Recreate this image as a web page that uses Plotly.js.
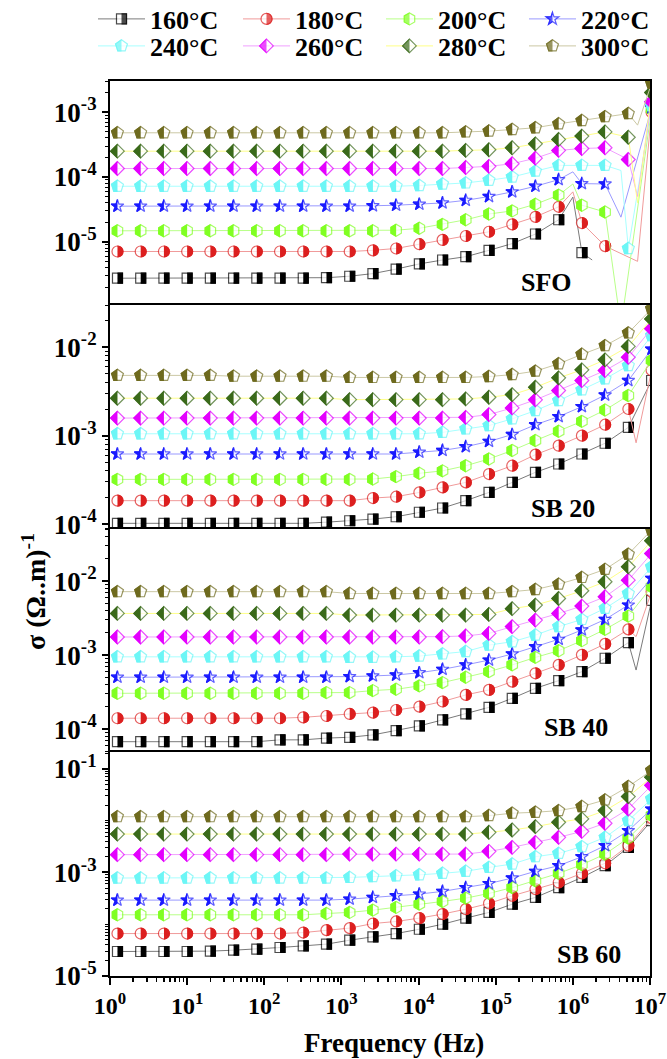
<!DOCTYPE html>
<html><head><meta charset="utf-8">
<script src="https://cdn.plot.ly/plotly-3.0.1.min.js"></script>
<style>html,body{margin:0;padding:0;background:#fff}#chart{width:667px;height:1059px}</style>
</head><body>
<svg width="0" height="0" style="position:absolute;left:0;top:0"><defs>
<clipPath id="halfR" clipPathUnits="objectBoundingBox"><rect x="0.5" y="-1" width="2" height="3"/></clipPath>
<clipPath id="halfL" clipPathUnits="objectBoundingBox"><rect x="-1.5" y="-1" width="2" height="3"/></clipPath>
</defs></svg>
<div id="chart"></div>
<script>
// ---------------- data ----------------
const freqHz = [1.25, 2.5, 5, 10, 20, 40, 80, 160, 320, 640, 1280, 2560, 5120, 10240, 20480, 40960, 81920, 163840, 327680, 655360, 1310720, 2621440, 5242880, 10485760];
const seriesNames = ['160°C', '180°C', '200°C', '220°C', '240°C', '260°C', '280°C', '300°C'];
const panelLabels = ['SFO', 'SB 20', 'SB 40', 'SB 60'];

// SFO
const sfo160 = [2.75e-6,2.75e-6,2.75e-6,2.75e-6,2.75e-6,2.75e-6,2.75e-6,2.75e-6,2.75e-6,2.8e-6,2.95e-6,3.24e-6,3.8e-6,4.57e-6,5.25e-6,5.9e-6,7.4e-6,9.4e-6,1.32e-5,2.19e-5,6.8e-6,null,null,null];
const sfo180 = [7.1e-6,7.1e-6,7.1e-6,7.1e-6,7.1e-6,7.1e-6,7.1e-6,7.1e-6,7.1e-6,7.1e-6,7.1e-6,7.4e-6,7.9e-6,9.2e-6,1.07e-5,1.23e-5,1.43e-5,1.86e-5,2.43e-5,3.47e-5,1.95e-5,8.6e-6,null,1.0e-3];
const sfo200 = [1.48e-5,1.48e-5,1.48e-5,1.48e-5,1.48e-5,1.48e-5,1.48e-5,1.48e-5,1.48e-5,1.48e-5,1.48e-5,1.48e-5,1.51e-5,1.62e-5,1.86e-5,2.19e-5,2.69e-5,3.0e-5,3.8e-5,5.25e-5,3.67e-5,2.88e-5,null,1.1e-3];
const sfo220 = [3.55e-5,3.55e-5,3.55e-5,3.55e-5,3.55e-5,3.55e-5,3.55e-5,3.55e-5,3.55e-5,3.55e-5,3.55e-5,3.6e-5,3.67e-5,3.8e-5,3.98e-5,4.37e-5,5.0e-5,5.9e-5,7.2e-5,9.1e-5,7.9e-5,7.8e-5,null,1.17e-3];
const sfo240 = [7.2e-5,7.2e-5,7.2e-5,7.2e-5,7.2e-5,7.2e-5,7.2e-5,7.2e-5,7.2e-5,7.2e-5,7.2e-5,7.2e-5,7.2e-5,7.4e-5,7.8e-5,8.1e-5,8.9e-5,1.0e-4,1.23e-4,1.51e-4,1.51e-4,1.51e-4,7.9e-6,1.26e-3];
const sfo260 = [1.35e-4,1.35e-4,1.35e-4,1.35e-4,1.35e-4,1.35e-4,1.35e-4,1.35e-4,1.35e-4,1.35e-4,1.35e-4,1.35e-4,1.35e-4,1.35e-4,1.35e-4,1.4e-4,1.46e-4,1.6e-4,1.95e-4,2.57e-4,2.75e-4,2.82e-4,1.86e-4,1.45e-3];
const sfo280 = [2.5e-4,2.5e-4,2.5e-4,2.5e-4,2.5e-4,2.5e-4,2.5e-4,2.5e-4,2.5e-4,2.5e-4,2.5e-4,2.5e-4,2.5e-4,2.5e-4,2.5e-4,2.57e-4,2.63e-4,2.82e-4,3.24e-4,3.8e-4,4.27e-4,4.95e-4,4.1e-4,2.0e-3];
const sfo300 = [4.8e-4,4.8e-4,4.8e-4,4.8e-4,4.8e-4,4.8e-4,4.8e-4,4.8e-4,4.8e-4,4.8e-4,4.8e-4,4.8e-4,4.8e-4,4.8e-4,4.8e-4,4.95e-4,5.1e-4,5.4e-4,5.75e-4,6.6e-4,7.4e-4,8.5e-4,9.5e-4,2.8e-3];
const sfoExtraHz = [1.0e6, 1.78e6, 4.2e6, 6.9e6];
const sfoExtra160 = [4.9e-5, 5.25e-6, null, null];
const sfoExtra180 = [5.9e-5, null, null, 5e-6];
const sfoExtra200 = [7.8e-5, null, 5e-7, null];
const sfoExtra220 = [1.2e-4, null, 2.4e-5, null];
const sfoExtra240 = [null, null, 1.26e-4, null];
const sfoExtra260 = [null, null, null, 5e-5];
const sfoExtra280 = [null, null, null, 4e-5];
const sfoExtra300 = [null, null, null, 6.3e-4];

// SB 20
const sb20_160 = [1.02e-4,1.02e-4,1.02e-4,1.02e-4,1.02e-4,1.02e-4,1.02e-4,1.02e-4,1.02e-4,1.05e-4,1.09e-4,1.14e-4,1.21e-4,1.36e-4,1.52e-4,1.84e-4,2.28e-4,2.96e-4,3.85e-4,4.78e-4,6.2e-4,8.2e-4,1.24e-3,4.2e-3];
const sb20_180 = [1.84e-4,1.84e-4,1.84e-4,1.84e-4,1.84e-4,1.84e-4,1.84e-4,1.84e-4,1.84e-4,1.84e-4,1.84e-4,1.97e-4,2.04e-4,2.28e-4,2.6e-4,2.96e-4,3.68e-4,4.57e-4,6.1e-4,7.7e-4,1.0e-3,1.33e-3,2.0e-3,5.5e-3];
const sb20_200 = [3.2e-4,3.2e-4,3.2e-4,3.2e-4,3.2e-4,3.2e-4,3.2e-4,3.2e-4,3.2e-4,3.2e-4,3.2e-4,3.23e-4,3.44e-4,3.75e-4,4.0e-4,4.57e-4,5.45e-4,6.8e-4,8.8e-4,1.12e-3,1.45e-3,1.95e-3,2.84e-3,7.1e-3];
const sb20_220 = [6.2e-4,6.2e-4,6.2e-4,6.2e-4,6.2e-4,6.2e-4,6.2e-4,6.2e-4,6.2e-4,6.2e-4,6.2e-4,6.2e-4,6.2e-4,6.5e-4,6.8e-4,7.5e-4,8.6e-4,1.03e-3,1.33e-3,1.64e-3,2.13e-3,2.88e-3,4.2e-3,9.5e-3];
const sb20_240 = [1.05e-3,1.05e-3,1.05e-3,1.05e-3,1.05e-3,1.05e-3,1.05e-3,1.05e-3,1.05e-3,1.05e-3,1.05e-3,1.05e-3,1.05e-3,1.05e-3,1.09e-3,1.19e-3,1.3e-3,1.55e-3,1.92e-3,2.49e-3,3.29e-3,4.39e-3,6.2e-3,1.35e-2];
const sb20_260 = [1.58e-3,1.58e-3,1.58e-3,1.58e-3,1.58e-3,1.58e-3,1.58e-3,1.58e-3,1.58e-3,1.58e-3,1.58e-3,1.58e-3,1.58e-3,1.58e-3,1.58e-3,1.61e-3,1.73e-3,2.06e-3,2.54e-3,3.24e-3,4.2e-3,5.45e-3,7.7e-3,1.62e-2];
const sb20_280 = [2.65e-3,2.65e-3,2.65e-3,2.65e-3,2.65e-3,2.65e-3,2.65e-3,2.65e-3,2.65e-3,2.65e-3,2.55e-3,2.55e-3,2.55e-3,2.55e-3,2.55e-3,2.6e-3,2.72e-3,2.91e-3,3.52e-3,4.5e-3,5.55e-3,7.2e-3,1.02e-2,2.09e-2];
const sb20_300 = [4.8e-3,4.8e-3,4.8e-3,4.8e-3,4.8e-3,4.7e-3,4.7e-3,4.7e-3,4.7e-3,4.7e-3,4.55e-3,4.55e-3,4.55e-3,4.55e-3,4.55e-3,4.55e-3,4.66e-3,4.9e-3,5.36e-3,6.5e-3,8.3e-3,1.04e-2,1.45e-2,2.72e-2];
const sb20ExtraHz = [6.6e6];
const sb20Extra180 = [8.3e-4];
const sb20ExtraNone = [null];

// SB 40
const sb40_160 = [6.8e-5,6.8e-5,6.8e-5,6.8e-5,6.8e-5,6.8e-5,6.8e-5,7.2e-5,7.2e-5,7.6e-5,7.8e-5,8.4e-5,9.6e-5,1.11e-4,1.34e-4,1.61e-4,1.98e-4,2.62e-4,3.57e-4,4.54e-4,6.0e-4,9.1e-4,1.48e-3,5.5e-3];
const sb40_180 = [1.41e-4,1.41e-4,1.41e-4,1.41e-4,1.41e-4,1.41e-4,1.41e-4,1.41e-4,1.45e-4,1.51e-4,1.61e-4,1.68e-4,1.82e-4,2.02e-4,2.37e-4,2.91e-4,3.4e-4,4.4e-4,5.7e-4,7.4e-4,1.01e-3,1.42e-3,2.23e-3,7.2e-3];
const sb40_200 = [3.06e-4,3.06e-4,3.06e-4,3.06e-4,3.06e-4,3.06e-4,3.06e-4,3.06e-4,3.06e-4,3.13e-4,3.13e-4,3.33e-4,3.47e-4,3.85e-4,4.27e-4,5.04e-4,6.0e-4,7.4e-4,9.35e-4,1.15e-3,1.57e-3,2.23e-3,3.37e-3,8.4e-3];
const sb40_220 = [5.04e-4,5.04e-4,5.04e-4,5.04e-4,5.04e-4,5.04e-4,5.04e-4,5.04e-4,5.04e-4,5.04e-4,5.14e-4,5.25e-4,5.4e-4,5.8e-4,6.45e-4,7.4e-4,8.6e-4,1.04e-3,1.3e-3,1.64e-3,2.19e-3,3.04e-3,4.75e-3,1.09e-2];
const sb40_240 = [9.5e-4,9.5e-4,9.5e-4,9.5e-4,9.5e-4,9.5e-4,9.5e-4,9.5e-4,9.5e-4,9.5e-4,9.35e-4,9.35e-4,9.5e-4,9.75e-4,1.04e-3,1.12e-3,1.37e-3,1.52e-3,1.87e-3,2.43e-3,3.04e-3,4.29e-3,6.8e-3,1.56e-2];
const sb40_260 = [1.76e-3,1.76e-3,1.76e-3,1.76e-3,1.76e-3,1.76e-3,1.76e-3,1.76e-3,1.76e-3,1.76e-3,1.76e-3,1.76e-3,1.76e-3,1.76e-3,1.78e-3,1.82e-3,1.97e-3,2.43e-3,2.98e-3,3.66e-3,4.6e-3,6.15e-3,1.03e-2,2.36e-2];
const sb40_280 = [3.66e-3,3.66e-3,3.66e-3,3.66e-3,3.66e-3,3.66e-3,3.66e-3,3.66e-3,3.66e-3,3.66e-3,3.48e-3,3.48e-3,3.48e-3,3.48e-3,3.48e-3,3.48e-3,3.55e-3,4.25e-3,4.75e-3,5.83e-3,7.4e-3,9.8e-3,1.56e-2,3.5e-2];
const sb40_300 = [7.2e-3,7.2e-3,7.2e-3,7.2e-3,7.2e-3,7.2e-3,7.2e-3,7.2e-3,7.2e-3,7.2e-3,6.8e-3,6.8e-3,6.8e-3,6.8e-3,6.8e-3,6.8e-3,6.8e-3,7.2e-3,7.7e-3,9.1e-3,1.12e-2,1.44e-2,2.31e-2,4.9e-2];
const sb40ExtraHz = [6.6e6];
const sb40Extra160 = [6.3e-4];
const sb40Extra180 = [1.78e-3];
const sb40ExtraNone = [null];

// SB 60
const sb60_160 = [2.97e-5,2.97e-5,2.97e-5,2.97e-5,3.02e-5,3.15e-5,3.3e-5,3.55e-5,3.82e-5,4.12e-5,4.92e-5,5.7e-5,6.6e-5,8.0e-5,1.0e-4,1.31e-4,1.69e-4,2.44e-4,3.29e-4,5.1e-4,8.0e-4,1.35e-3,3.05e-3,1.0e-2];
const sb60_180 = [6.6e-5,6.6e-5,6.6e-5,6.6e-5,6.6e-5,6.6e-5,6.6e-5,6.6e-5,6.9e-5,7.7e-5,8.4e-5,1.03e-4,1.13e-4,1.31e-4,1.57e-4,1.95e-4,2.52e-4,3.54e-4,4.76e-4,6.4e-4,9.6e-4,1.5e-3,3.29e-3,1.12e-2];
const sb60_200 = [1.52e-4,1.52e-4,1.52e-4,1.52e-4,1.52e-4,1.52e-4,1.52e-4,1.52e-4,1.52e-4,1.61e-4,1.69e-4,1.87e-4,2.11e-4,2.44e-4,2.75e-4,3.19e-4,3.93e-4,5.1e-4,6.9e-4,9.6e-4,1.41e-3,2.26e-3,4.61e-3,1.26e-2];
const sb60_220 = [2.92e-4,2.92e-4,2.92e-4,2.92e-4,2.92e-4,2.92e-4,2.92e-4,2.92e-4,2.92e-4,2.92e-4,3.05e-4,3.29e-4,3.55e-4,3.82e-4,4.3e-4,5.1e-4,6.1e-4,7.8e-4,1.05e-3,1.35e-3,2.01e-3,3.29e-3,6.4e-3,1.67e-2];
const sb60_240 = [7.8e-4,7.8e-4,7.8e-4,7.8e-4,7.8e-4,7.8e-4,7.8e-4,7.8e-4,7.8e-4,7.8e-4,8.0e-4,8.3e-4,8.6e-4,9.0e-4,9.6e-4,1.05e-3,1.25e-3,1.45e-3,2.01e-3,2.33e-3,3.14e-3,4.76e-3,1.0e-2,2.63e-2];
const sb60_260 = [2.2e-3,2.2e-3,2.2e-3,2.2e-3,2.2e-3,2.2e-3,2.2e-3,2.2e-3,2.2e-3,2.2e-3,2.26e-3,2.26e-3,2.26e-3,2.26e-3,2.26e-3,2.26e-3,2.55e-3,3.05e-3,3.81e-3,4.76e-3,6.2e-3,8.9e-3,1.68e-2,4.8e-2];
const sb60_280 = [5.5e-3,5.5e-3,5.5e-3,5.5e-3,5.5e-3,5.5e-3,5.5e-3,5.5e-3,5.5e-3,5.5e-3,5.5e-3,5.5e-3,5.5e-3,5.5e-3,5.5e-3,5.5e-3,5.95e-3,6.6e-3,7.65e-3,9.3e-3,1.08e-2,1.56e-2,2.91e-2,6.9e-2];
const sb60_300 = [1.19e-2,1.19e-2,1.19e-2,1.19e-2,1.19e-2,1.19e-2,1.19e-2,1.19e-2,1.19e-2,1.19e-2,1.19e-2,1.19e-2,1.19e-2,1.19e-2,1.19e-2,1.19e-2,1.25e-2,1.39e-2,1.45e-2,1.56e-2,1.87e-2,2.51e-2,4.55e-2,9.3e-2];
const sb60ExtraHz = [];
const sb60ExtraNone = [];

// tick labels
const xTickVals = [1, 10, 100, 1e3, 1e4, 1e5, 1e6, 1e7];
const xTickText = ['10<sup>0</sup>','10<sup>1</sup>','10<sup>2</sup>','10<sup>3</sup>','10<sup>4</sup>','10<sup>5</sup>','10<sup>6</sup>','10<sup>7</sup>'];
const yTickVals1 = [1e-5, 1e-4, 1e-3];
const yTickText1 = ['10<sup>-5</sup>','10<sup>-4</sup>','10<sup>-3</sup>'];
const yTickVals2 = [1e-4, 1e-3, 1e-2];
const yTickText2 = ['10<sup>-4</sup>','10<sup>-3</sup>','10<sup>-2</sup>'];
const yTickVals3 = [1e-4, 1e-3, 1e-2];
const yTickText3 = ['10<sup>-4</sup>','10<sup>-3</sup>','10<sup>-2</sup>'];
const yTickVals4 = [1e-5, 1e-3, 1e-1];
const yTickText4 = ['10<sup>-5</sup>','10<sup>-3</sup>','10<sup>-1</sup>'];

// ---------------- styles ----------------
const symbols = ['square','circle','hexagon','star','pentagon','diamond','diamond','pentagon'];
const mSizes = [10, 11, 12, 9.5, 12.5, 10.5, 10.5, 12.5];
const mColors = ['#000000','#dc1f1f','#80ff22','#1a1aff','#6cf6f6','#e400ff','#3a6a1a','#6e6a1e'];
const lColors = ['#7a7a7a','#f09a9a','#b8ff88','#9999ff','#a8ffff','#f0a0ff','#ffff88','#cbc8a4'];
const halfSide = ['R','R','L','L','L','L','L','L'];
const legendIds = ['legend','legend2','legend3','legend4','legend5','legend6','legend7','legend8'];

const panels = [
  {vals:[sfo160,sfo180,sfo200,sfo220,sfo240,sfo260,sfo280,sfo300], exHz:sfoExtraHz,
   ex:[sfoExtra160,sfoExtra180,sfoExtra200,sfoExtra220,sfoExtra240,sfoExtra260,sfoExtra280,sfoExtra300],
   range:[-5.97,-2.52], tv:yTickVals1, tt:yTickText1},
  {vals:[sb20_160,sb20_180,sb20_200,sb20_220,sb20_240,sb20_260,sb20_280,sb20_300], exHz:sb20ExtraHz,
   ex:[sb20ExtraNone,sb20Extra180,sb20ExtraNone,sb20ExtraNone,sb20ExtraNone,sb20ExtraNone,sb20ExtraNone,sb20ExtraNone],
   range:[-4.05,-1.52], tv:yTickVals2, tt:yTickText2},
  {vals:[sb40_160,sb40_180,sb40_200,sb40_220,sb40_240,sb40_260,sb40_280,sb40_300], exHz:sb40ExtraHz,
   ex:[sb40Extra160,sb40Extra180,sb40ExtraNone,sb40ExtraNone,sb40ExtraNone,sb40ExtraNone,sb40ExtraNone,sb40ExtraNone],
   range:[-4.31,-1.29], tv:yTickVals3, tt:yTickText3},
  {vals:[sb60_160,sb60_180,sb60_200,sb60_220,sb60_240,sb60_260,sb60_280,sb60_300], exHz:sb60ExtraHz,
   ex:[sb60ExtraNone,sb60ExtraNone,sb60ExtraNone,sb60ExtraNone,sb60ExtraNone,sb60ExtraNone,sb60ExtraNone,sb60ExtraNone],
   range:[-5.0,-0.68], tv:yTickVals4, tt:yTickText4}
];

const data = [];
panels.forEach((P, p) => {
  const sfx = p === 0 ? '' : String(p + 1);
  P.vals.forEach((vals, s) => {
    const pts = [];
    freqHz.forEach((f, i) => { if (vals[i] != null) pts.push([f, vals[i], mSizes[s]]); });
    P.exHz.forEach((f, i) => { const v = P.ex[s][i]; if (v != null) pts.push([f, v, 0]); });
    pts.sort((a, b) => a[0] - b[0]);
    data.push({
      type: 'scatter', mode: 'lines+markers', xaxis: 'x' + sfx, yaxis: 'y' + sfx,
      x: pts.map(q => q[0]), y: pts.map(q => q[1]), name: seriesNames[s],
      showlegend: p === 3, legend: legendIds[s],
      line: {color: lColors[s], width: 1},
      marker: {symbol: symbols[s], size: pts.map(q => q[2]), color: '#ffffff', line: {color: mColors[s], width: 1.2}},
      meta: 'outline' + halfSide[s], hoverinfo: 'skip', cliponaxis: true
    });
    data.push({
      type: 'scatter', mode: 'markers', xaxis: 'x' + sfx, yaxis: 'y' + sfx,
      x: freqHz, y: vals, showlegend: false,
      marker: {symbol: symbols[s], size: mSizes[s], color: mColors[s], line: {color: mColors[s], width: 1.2}},
      meta: halfSide[s], hoverinfo: 'skip', cliponaxis: true
    });
  });
});

const layout = {
  width: 667, height: 1059,
  margin: {l: 110, r: 17, t: 81, b: 83},
  paper_bgcolor: '#ffffff', plot_bgcolor: '#ffffff',
  font: {family: '"Liberation Serif", "Times New Roman", serif', color: '#000', size: 24, weight: 'bold'},
  hovermode: false,
  annotations: []
};

// one legend box per entry, laid out as 2 rows x 4 columns
const legColX = [93, 238, 381, 524];
const legRowY = [19, 46];
legendIds.forEach((id, s) => {
  layout[id] = {
    orientation: 'h', xref: 'container', yref: 'container',
    x: legColX[s % 4] / 667, y: 1 - legRowY[Math.floor(s / 4)] / 1059,
    xanchor: 'left', yanchor: 'middle', font: {size: 26, weight: 'bold'}, itemwidth: 47,
    bgcolor: 'rgba(0,0,0,0)', borderwidth: 0
  };
});

panels.forEach((P, p) => {
  const sfx = p === 0 ? '' : String(p + 1);
  const top = 1 - 0.25 * p, bot = 0.75 - 0.25 * p;
  layout['yaxis' + sfx] = {
    domain: [bot, top], type: 'log', range: P.range, anchor: 'x' + sfx,
    tickmode: 'array', tickvals: P.tv, ticktext: P.tt,
    ticks: 'outside', ticklen: 6, tickwidth: 2, tickcolor: '#000',
    showline: true, linewidth: 2, linecolor: '#000', mirror: true,
    showgrid: false, zeroline: false, tickfont: {size: 27, weight: 'bold'},
    minor: {ticks: 'outside', ticklen: 3, tickwidth: 1, tickcolor: '#000', dtick: 'D1', showgrid: false}
  };
  const isBottom = p === 3;
  layout['xaxis' + sfx] = {
    domain: [0, 1], type: 'log', range: [0, 7], anchor: 'y' + sfx,
    side: isBottom ? 'bottom' : 'top',
    showline: true, linewidth: 2, linecolor: '#000', mirror: isBottom,
    showgrid: false, zeroline: false,
    showticklabels: isBottom,
    tickmode: 'array', tickvals: xTickVals, ticktext: xTickText,
    ticks: isBottom ? 'outside' : '', ticklen: 7, tickwidth: 2, tickcolor: '#000',
    tickfont: {size: 24, weight: 'bold'},
    minor: isBottom ? {ticks: 'outside', ticklen: 4, tickwidth: 1.5, tickcolor: '#000', dtick: 'D1', showgrid: false} : {ticks: ''}
  };
});

const labelPos = [[0.809, 0.7754], [0.839, 0.522], [0.863, 0.278], [0.887, 0.0235]];
panelLabels.forEach((t, i) => {
  layout.annotations.push({text: t, xref: 'paper', yref: 'paper', x: labelPos[i][0], y: labelPos[i][1],
    xanchor: 'center', yanchor: 'middle', showarrow: false, font: {size: 26, weight: 'bold'}});
});
layout.annotations.push({text: 'σ (Ω..m)<sup>-1</sup>', xref: 'paper', yref: 'paper', x: -0.141, y: 0.43,
  textangle: -90, xanchor: 'center', yanchor: 'middle', showarrow: false, font: {size: 28, weight: 'bold'}});
layout.annotations.push({text: 'Frequency (Hz)', xref: 'paper', yref: 'paper', x: 0.526, y: -0.075,
  xanchor: 'center', yanchor: 'middle', showarrow: false, font: {size: 27, weight: 'bold'}});

Plotly.newPlot('chart', data, layout, {staticPlot: true, displayModeBar: false}).then(gd => {
  gd.querySelectorAll('g.trace.scatter').forEach(g => {
    const cd = g.__data__;
    const tr = cd && cd[0] && cd[0].trace;
    if (tr && (tr.meta === 'L' || tr.meta === 'R')) {
      g.querySelectorAll('path.point').forEach(pt => pt.setAttribute('clip-path', 'url(#half' + tr.meta + ')'));
    }
  });
  gd.querySelectorAll('g.traces').forEach(g => {
    if (g.dataset.halfDone) return;
    const d = g.__data__;
    const tr = d && d[0] && d[0].trace;
    if (!tr || typeof tr.meta !== 'string') return;
    const side = tr.meta.slice(-1);
    const pt = g.querySelector('path.scatterpts');
    if (!pt) return;
    const c = pt.cloneNode(true);
    c.style.fill = tr.marker.line.color;
    c.setAttribute('clip-path', 'url(#half' + side + ')');
    pt.parentNode.appendChild(c);
    g.dataset.halfDone = '1';
  });
});
</script>
</body></html>
